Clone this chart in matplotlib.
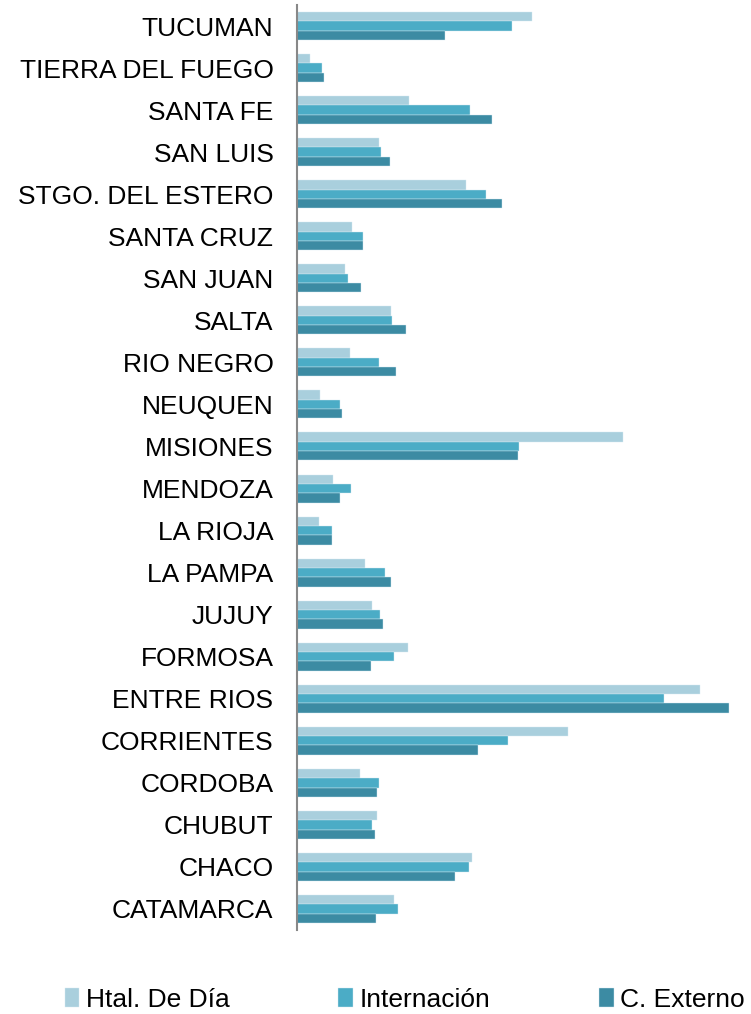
import numpy as np
import matplotlib.pyplot as plt

plt.rcParams['font.family'] = ['Liberation Sans', 'DejaVu Sans']

# provinces listed top to bottom as in the chart
provincias = ['TUCUMAN', 'TIERRA DEL FUEGO', 'SANTA FE', 'SAN LUIS',
              'STGO. DEL ESTERO', 'SANTA CRUZ', 'SAN JUAN', 'SALTA',
              'RIO NEGRO', 'NEUQUEN', 'MISIONES', 'MENDOZA', 'LA RIOJA',
              'LA PAMPA', 'JUJUY', 'FORMOSA', 'ENTRE RIOS', 'CORRIENTES',
              'CORDOBA', 'CHUBUT', 'CHACO', 'CATAMARCA']

htal_dia = [235, 13, 112, 82, 169, 55, 48, 94, 53, 23, 326, 36, 22,
            68, 75, 111, 403, 271, 63, 80, 175, 97]
internacion = [215, 25, 173, 84, 189, 66, 51, 95, 82, 43, 222, 54, 35,
               88, 83, 97, 367, 211, 82, 75, 172, 101]
c_externo = [148, 27, 195, 93, 205, 66, 64, 109, 99, 45, 221, 43, 35,
             94, 86, 74, 432, 181, 80, 78, 158, 79]

series = ['Htal. De Día', 'Internación', 'C. Externo']
colores = ['#A9CFDD', '#4BACC6', '#3C8BA3']

fig = plt.figure(figsize=(7.51, 10.14), dpi=100)
ax = fig.add_axes([297 / 751, 1 - 930 / 1014, 448 / 751, 925 / 1014])

n = len(provincias)
y = np.arange(n)
h = 0.222
for i, (vals, nombre, col) in enumerate(zip([htal_dia, internacion, c_externo], series, colores)):
    ax.barh(y + (i - 1) * h, vals, height=h, color=col, label=nombre,
            edgecolor='#D5EAF1', linewidth=0.3)

ax.set_ylim(n - 0.5, -0.5)
ax.set_xlim(0, 448)
ax.set_yticks(y)
ax.set_yticklabels(provincias, fontsize=19)
ax.tick_params(axis='y', length=0, pad=17)
ax.set_xticks([])
for s in ['top', 'right', 'bottom']:
    ax.spines[s].set_visible(False)
ax.spines['left'].set_color('#888888')
ax.spines['left'].set_linewidth(1.5)

fig.legend(loc='center', bbox_to_anchor=(0.539, 1 - 1000 / 1014), ncol=3,
           frameon=False, fontsize=19, handlelength=0.55, handleheight=0.75,
           handletextpad=0.25, columnspacing=4.12, borderaxespad=0)

fig.savefig('out.png', dpi=100)
